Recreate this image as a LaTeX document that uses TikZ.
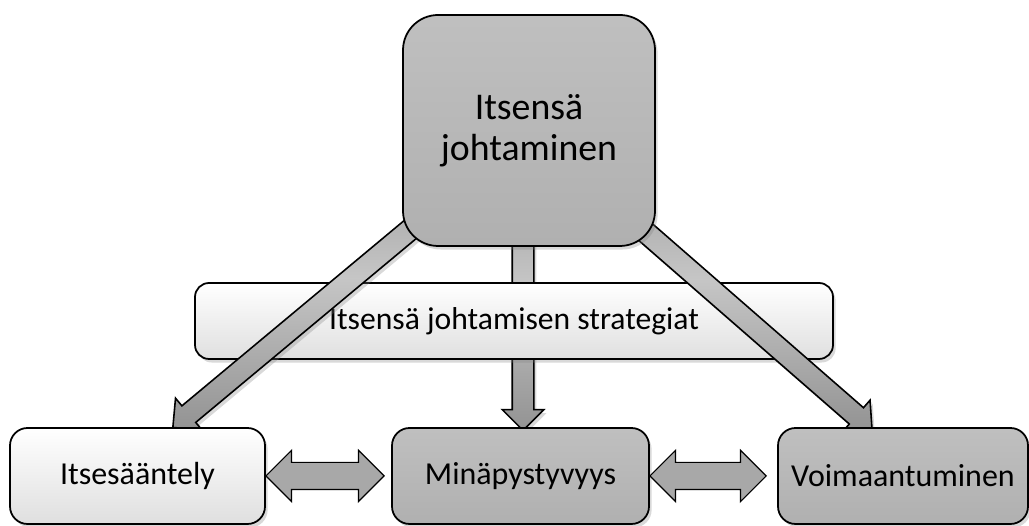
\documentclass[tikz,border=0pt]{standalone}
\usepackage{fontspec}
\setmainfont{Carlito}
\usetikzlibrary{shapes.arrows,shadows,calc}

\tikzset{
  softshadow/.style={drop shadow={opacity=0.3, shadow xshift=1.5pt, shadow yshift=-2pt}},
  graybox/.style={draw=black, line width=1pt, top color=gray!50, bottom color=gray!62,
    softshadow, align=center},
  whitebox/.style={draw=black, line width=1pt, top color=white, bottom color=gray!25,
    softshadow, align=center},
  fatarrow/.style={single arrow, draw=black, line width=0.9pt, inner xsep=0pt, inner ysep=0.2cm,
    single arrow head extend=0.2cm,
    top color=gray!85, bottom color=gray!85, middle color=gray!45, softshadow},
  twinarrow/.style={double arrow, draw=black, line width=0.7pt, inner xsep=0pt, inner ysep=0.26cm,
    double arrow head extend=0.24cm, fill=gray!68},
}

% block arrow from one point to another
\newcommand{\blockarrow}[3]{%
  \path let \p1=(#2), \p2=(#3),
    \n1={atan2(\y2-\y1,\x2-\x1)}, \n2={veclen(\x2-\x1,\y2-\y1)} in
    node[#1, rotate=\n1, minimum height=\n2] at ($(\p1)!0.5!(\p2)$) {};
}

\begin{document}
\begin{tikzpicture}
  \useasboundingbox (0,0) rectangle (20.58,10.52);

  \path (10.58,7.91) coordinate (topc);

  % vertical arrow, behind the strip
  \coordinate (vtip) at (10.46,2.02);
  \blockarrow{fatarrow}{vtip |- topc}{vtip}

  % strategies strip
  \node[whitebox, rounded corners=8pt, minimum width=12.76cm, minimum height=1.52cm,
    font=\fontsize{18}{22}\selectfont] (strip) at (10.28,4.10) {Itsensä johtamisen strategiat};

  % diagonal arrows, over the strip
  \coordinate (ltip) at (3.54,2.04);
  \coordinate (rtip) at (17.36,2.00);
  \blockarrow{fatarrow}{topc}{ltip}
  \blockarrow{fatarrow}{topc}{rtip}

  % main box
  \node[graybox, rounded corners=20pt, minimum width=5.04cm, minimum height=4.62cm,
    font=\fontsize{21.5}{23.5}\selectfont] (top) at (topc) {Itsensä\\johtaminen};

  % bottom row
  \node[whitebox, rounded corners=10pt, minimum width=5.10cm, minimum height=1.92cm,
    font=\fontsize{18.2}{21}\selectfont] (left) at (2.75,1.00) {Itsesääntely};
  \node[graybox, rounded corners=10pt, minimum width=5.14cm, minimum height=1.92cm,
    font=\fontsize{18.2}{21}\selectfont] (mid) at (10.41,1.00) {Minäpystyvyys};
  \node[graybox, rounded corners=10pt, minimum width=5.00cm, minimum height=1.92cm,
    font=\fontsize{18.2}{21}\selectfont] (right) at (18.06,1.00) {Voimaantuminen};

  % two-way arrows
  \blockarrow{twinarrow}{left.east}{$(mid.west)+(-0.14,0)$}
  \blockarrow{twinarrow}{mid.east}{$(right.west)+(-0.22,0)$}
\end{tikzpicture}
\end{document}
